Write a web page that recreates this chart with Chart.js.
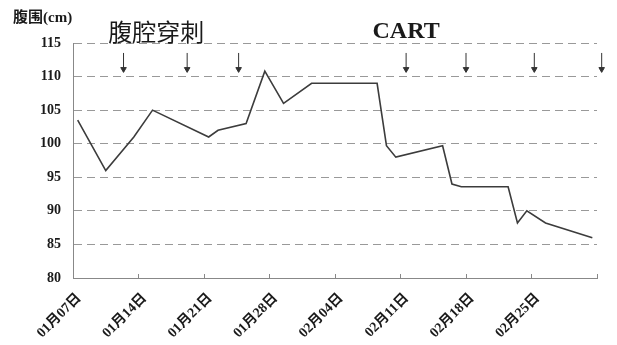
<!DOCTYPE html>
<html>
<head>
<meta charset="utf-8">
<script src="https://cdn.jsdelivr.net/npm/chart.js@4/dist/chart.umd.min.js"></script>
<style>
  html, body { margin: 0; padding: 0; background: #fff; }
  #wrap { width: 617px; height: 345px; }
</style>
</head>
<body>
<div id="wrap"><canvas id="c" width="617" height="345"></canvas></div>
<script>
// ---- data (day index counted from 01月07日) ----
const days   = [0, 3, 6, 8, 14, 15, 18, 20, 22, 25, 32, 33, 34, 39, 40, 41, 46, 47, 48, 50, 55];
const girth  = [103.5, 96, 101, 105, 101, 102, 103, 110.8, 106, 109, 109, 99.7, 98, 99.7, 94, 93.6, 93.6, 88.2, 90, 88.2, 86];
const xTickLabels = ['01月07日', '01月14日', '01月21日', '01月28日', '02月04日', '02月11日', '02月18日', '02月25日', ''];
const yTicks = [80, 85, 90, 95, 100, 105, 110, 115];
// procedure markers (arrows)
const paracentesisDays = [4.9, 11.7, 17.2];
const cartDays = [35.1, 41.5, 48.8, 56.0];
const arrowShaftValue = 112.25;
const arrowHeadValue = 111.1;
const yAxisTitle = '腹围(cm)';
const procLabels = [
  { text: '腹腔穿刺', day: 8.4, value: 116.7, font: 'normal 24px "Noto Sans CJK SC"' },
  { text: 'CART', day: 35.1, value: 116.7, font: 'bold 24px "Liberation Serif"' }
];

const arrowDays = paracentesisDays.concat(cartDays);
const lineData = days.map((d, i) => ({ x: d, y: girth[i] }));
const shaftData = arrowDays.map(d => ({ x: d, y: arrowShaftValue }));
const headData = arrowDays.map(d => ({ x: d, y: arrowHeadValue }));

const textPlugin = {
  id: 'texts',
  afterDraw(chart) {
    const ctx = chart.ctx;
    const xs = chart.scales.x, ys = chart.scales.y;
    ctx.save();
    ctx.fillStyle = '#1a1a1a';
    ctx.textAlign = 'center';
    ctx.textBaseline = 'middle';
    procLabels.forEach(l => {
      ctx.font = l.font;
      ctx.fillText(l.text, xs.getPixelForValue(l.day), ys.getPixelForValue(l.value));
    });
    // y axis title
    ctx.textAlign = 'left';
    ctx.font = 'bold 15px "Liberation Serif", "Noto Sans CJK SC"';
    ctx.fillText(yAxisTitle, 13, 18);
    ctx.restore();
  }
};

new Chart(document.getElementById('c'), {
  type: 'scatter',
  data: {
    datasets: [
      {
        data: lineData,
        showLine: true,
        borderColor: '#3c3c3c',
        borderWidth: 1.6,
        pointRadius: 0,
        tension: 0,
        fill: false
      },
      {
        data: shaftData,
        pointStyle: 'line',
        rotation: 90,
        pointRadius: 8.5,
        borderColor: '#333',
        borderWidth: 1,
        clip: false
      },
      {
        data: headData,
        pointStyle: 'triangle',
        rotation: 180,
        pointRadius: 3.2,
        backgroundColor: '#333',
        borderColor: '#333',
        borderWidth: 1,
        clip: false
      }
    ]
  },
  options: {
    responsive: false,
    animation: false,
    events: [],
    layout: { padding: { top: 43, right: 20, left: 0, bottom: 0 } },
    plugins: { legend: { display: false }, tooltip: { enabled: false } },
    scales: {
      x: {
        type: 'linear',
        min: -0.5,
        max: 55.5,
        afterBuildTicks(scale) {
          scale.ticks = xTickLabels.map((_, i) => ({ value: -0.5 + 7 * i }));
        },
        afterFit(scale) {
          scale.height = 67;
          scale.paddingRight = 0;
          scale.paddingLeft = 0;
        },
        ticks: {
          autoSkip: false,
          minRotation: 45,
          maxRotation: 45,
          padding: 16,
          labelOffset: 6,
          color: '#1a1a1a',
          font: { family: '"Liberation Serif", "Noto Sans CJK SC"', size: 14, weight: 'bold' },
          callback(value, index) { return xTickLabels[index]; }
        },
        grid: {
          drawOnChartArea: false,
          drawTicks: true,
          tickLength: -4,
          color: '#888'
        },
        border: { display: true, color: '#888', width: 1 }
      },
      y: {
        min: 80,
        max: 115,
        afterBuildTicks(scale) {
          scale.ticks = yTicks.map(v => ({ value: v }));
        },
        afterFit(scale) { scale.width = 73; },
        ticks: {
          padding: 12,
          color: '#1a1a1a',
          font: { family: '"Liberation Serif"', size: 14, weight: 'bold' }
        },
        grid: {
          drawTicks: false,
          color: ctx => (ctx.tick && ctx.tick.value === 80) ? 'rgba(0,0,0,0)' : '#999',
          lineWidth: 1
        },
        border: { display: true, color: '#888', width: 1, dash: [8, 5] }
      }
    }
  },
  plugins: [textPlugin]
});
</script>
</body>
</html>
